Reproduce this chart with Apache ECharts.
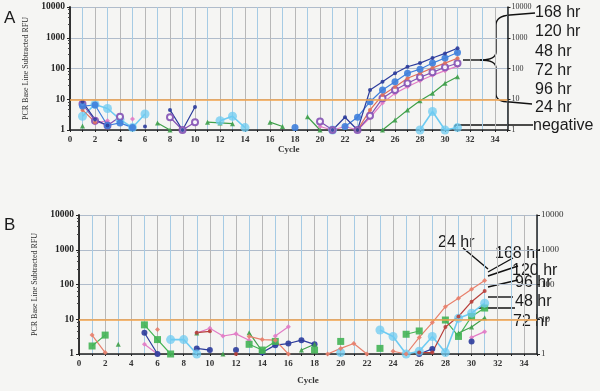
<!DOCTYPE html>
<html><head><meta charset="utf-8">
<script src="https://cdn.jsdelivr.net/npm/echarts@6/dist/echarts.min.js"></script>
<style>html,body{margin:0;padding:0;background:#f5f5f3}#c{width:600px;height:391px}</style>
</head><body><div id="c"></div>
<script>
// ---- data ----
const cycles = [1,2,3,4,5,6,7,8,9,10,11,12,13,14,15,16,17,18,19,20,21,22,23,24,25,26,27,28,29,30,31];
const thresholdA = 10;
const thresholdB = 10;
// Panel A
const a168 = [8.3,2.2,1.4,null,null,1.3,null,4.5,1,5.6,null,null,null,null,null,null,null,null,null,null,1,2.6,1,20,37,70,114,150,220,310,455];
const a120 = [6,6.5,1.4,1.7,1.2,null,null,null,null,null,null,null,null,null,null,null,null,1.2,null,null,null,1.3,2.6,8.3,20,37,70,95,150,220,330];
const a48  = [4.5,1.8,null,null,null,null,null,null,null,null,null,null,null,null,null,null,null,null,null,null,null,null,1,4.5,13.7,25,48,70,105,150,215];
const a72  = [7,2,1.4,2.7,null,null,null,2.6,1,1.8,null,null,null,null,null,null,null,null,null,1.9,1,null,1,2.9,10.7,20,33,52,75,110,148];
const a96  = [null,1.7,2,null,2.3,null,null,null,null,null,null,null,null,null,null,null,null,null,null,1.3,1,1.3,1,2.5,7.5,15.5,25.6,40,60,85,120];
const a24  = [1.35,null,null,null,null,null,1.7,1,null,null,1.8,1.7,1.6,null,null,1.8,1.3,null,2.7,1,null,null,null,null,1,2.1,4.5,8.9,15.6,33,54];
const aNeg = [2.8,6.8,5,2.2,1.2,3.3,null,null,null,null,null,2,2.8,1.2,null,null,null,null,null,null,1,null,null,null,null,null,null,1,4,1,1.2];
// Panel B
const b24  = [3.5,1.1,null,null,null,5.1,null,null,null,null,null,null,3.2,2.6,2.5,1,null,null,1,1.45,2.0,1,null,1.2,1,3,8,23,40,73,130];
const b168 = [null,null,null,null,null,null,null,null,4.1,4.5,null,1,null,null,null,null,null,null,null,null,null,null,null,null,null,1.1,1.1,6,12,32,65];
const b120 = [null,null,null,null,null,null,2.6,2.6,1,null,null,null,null,null,null,null,null,null,null,1.1,null,null,4.9,3.2,1,1.2,3.2,1.1,10.7,15,29];
const b96  = [1.7,3.5,null,null,6.9,2.6,1,null,null,null,null,null,1.9,1.3,2.3,null,null,1.3,null,2.3,null,null,1.45,null,3.7,4.6,null,9.5,3.2,12,21];
const b48  = [null,null,1.9,null,null,null,null,null,4,null,1,null,4.1,1.2,null,null,1.3,1.9,null,null,null,null,null,null,null,null,null,null,4,6,11];
const b72  = [null,null,null,null,4.1,1,null,null,1.45,1.3,null,1.3,null,1.1,1.8,2.0,2.5,1.9,null,null,null,null,null,null,null,1,1.4,null,null,2.3,null];
const bPink= [null,null,null,null,1.9,1,null,null,4,5.5,3.3,3.8,2.5,null,3.3,6.1,null,null,null,null,null,null,null,null,null,null,null,null,null,3,4.4];
const yTicks = [1,10,100,1000,10000];
const labelsA = ['168 hr','120 hr','48 hr','72 hr','96 hr','24 hr','negative'];
const labelsB = ['24 hr','168 hr','120 hr','96 hr','48 hr','72 hr'];

// ---- chart ----
const chart = echarts.init(document.getElementById('c'));
function ser(name, vals, color, symbol, size, xi, yi, extra){
  return Object.assign({
    name, type:'line', xAxisIndex:xi, yAxisIndex:yi,
    data: cycles.map((c,i)=>[c, vals[i]]),
    symbol, symbolSize:size, showSymbol:true, clip:true,
    lineStyle:{color, width:1.2}, itemStyle:{color, opacity:0.9},
    z:3
  }, extra||{});
}
function thr(v){
  return {silent:true, symbol:'none', label:{show:false},
    lineStyle:{color:'#f2a24a', width:1.6, type:'solid'}, data:[{yAxis:v}]};
}
const serif = 'Liberation Serif';
function xAx(gi){
  return {type:'value', gridIndex:gi, min:0, max:35, interval:1,
    name:'Cycle', nameLocation:'middle', nameGap: gi===0?14:22,
    nameTextStyle:{fontFamily:serif, fontWeight:'bold', fontSize:9, color:'#333'},
    axisLine:{lineStyle:{color:'#222', width:1.5}},
    axisTick:{length:2, lineStyle:{color:'#222'}},
    axisLabel:{fontFamily:serif, fontWeight:'bold', fontSize:9, color:'#333', margin:5,
      formatter:v=> (v%2===0 && v<35)? String(v):''},
    splitLine:{show:true, lineStyle:{color:['#b8b8b8','#a6cbe4'], width:1}}};
}
function yAxL(gi){
  return {type:'log', gridIndex:gi, min:1, max:10000, logBase:10, position:'left',
    name:'PCR Base Line Subtracted RFU', nameLocation:'middle', nameGap: gi===0?36:38,
    nameTextStyle:{fontFamily:serif, fontSize:8, color:'#333'},
    axisLine:{show:true, lineStyle:{color:'#222', width:1.8}},
    axisTick:{show:true, length:3, lineStyle:{color:'#222'}},
    minorTick:{show:true, splitNumber:5, length:2, lineStyle:{color:'#444'}},
    axisLabel:{fontFamily:serif, fontWeight:'bold', fontSize:9.5, color:'#222', margin:5,
      formatter:v=> yTicks.includes(Math.round(v))? String(Math.round(v)):''},
    splitLine:{show:true, lineStyle:{color:'#b0bccb', width:1}}};
}
function yAxR(gi, fs){
  return {type:'log', gridIndex:gi, min:1, max:10000, logBase:10, position:'right',
    axisLine:{show:true, lineStyle:{color:'#222', width:1.5}},
    axisTick:{show:true, length:3, lineStyle:{color:'#222'}},
    axisLabel:{fontFamily:serif, fontSize:fs, color:'#333', margin:4,
      formatter:v=> yTicks.includes(Math.round(v))? String(Math.round(v)):''},
    splitLine:{show:false}};
}
const navy='#2c3c9c', blue='#3f7fdc', red='#e0705c', purple='#8452b4', pink='#e27cc6', green='#3fa04a', cyan='#6ecbf2', dred='#b8403c';
const txt = (x,y,s,fs,extra)=>Object.assign({type:'text', x, y, style:{text:s, font:`${fs}px "Liberation Sans"`, fill:'#1a1a1a', textVerticalAlign:'middle'}}, extra||{});
const ln = (x1,y1,x2,y2)=>({type:'line', shape:{x1,y1,x2,y2}, style:{stroke:'#111', lineWidth:1.4}});
const bz = (x1,y1,cx,cy,x2,y2)=>({type:'bezierCurve', shape:{x1,y1,x2,y2,cpx1:cx,cpy1:cy}, style:{stroke:'#111', lineWidth:1.4, fill:null}});
const aY = [13,32,52,71,90,108,126];
const graphics = [
  txt(4,18,'A',17), txt(4,225,'B',17),
  ...labelsA.map((s,i)=>txt(s==='negative'?533:535, aY[i], s, 16)),
  // brace
  ln(463,60,480,60), bz(480,60,496,60,496,52), ln(496,52,496,25), bz(496,25,496,16,510,15), ln(510,15,535,13),
  bz(480,60,496,60,496,68), ln(496,68,496,94), bz(496,94,496,102,510,102), ln(510,102,532,104),
  // negative
  ln(455,130,455,125), ln(455,125,533,125),
  // B labels
  txt(438,243,labelsB[0],16), txt(495,254,labelsB[1],16), txt(512,271,labelsB[2],16),
  txt(515,283,labelsB[3],16), txt(515,302,labelsB[4],16), txt(513,322,labelsB[5],16),
  ln(463,248,488,269), ln(488,272,513,258), ln(488,276,518,266), ln(488,287,518,280),
  ln(488,297,513,297), ln(478,308,515,308)
];
chart.setOption({
  backgroundColor:'#f5f5f3',
  animation:false,
  grid:[{left:70, right:92.5, top:7, bottom:261},{left:79, right:63, top:215, bottom:37}],
  xAxis:[xAx(0), xAx(1)],
  yAxis:[yAxL(0), yAxR(0,8), yAxL(1), yAxR(1,9)],
  series:[
    ser('A 24 hr', a24, green, 'triangle', 5, 0, 0, {markLine:thr(thresholdA)}),
    ser('A negative', aNeg, cyan, 'circle', 9, 0, 0, {itemStyle:{color:cyan, opacity:0.75}, lineStyle:{color:cyan, width:1.6}}),
    ser('A 96 hr', a96, pink, 'diamond', 5, 0, 0),
    ser('A 72 hr', a72, purple, 'emptyCircle', 6, 0, 0),
    ser('A 48 hr', a48, red, 'circle', 4, 0, 0),
    ser('A 120 hr', a120, blue, 'circle', 7, 0, 0),
    ser('A 168 hr', a168, navy, 'circle', 4, 0, 0),
    ser('B pink', bPink, pink, 'diamond', 5, 1, 2, {markLine:thr(thresholdB)}),
    ser('B 72 hr', b72, navy, 'circle', 6, 1, 2),
    ser('B 48 hr', b48, green, 'triangle', 5, 1, 2),
    ser('B 96 hr', b96, '#44b455', 'rect', 7, 1, 2),
    ser('B 120 hr', b120, cyan, 'circle', 9, 1, 2, {itemStyle:{color:cyan, opacity:0.75}, lineStyle:{color:cyan, width:1.6}}),
    ser('B 168 hr', b168, dred, 'circle', 4, 1, 2),
    ser('B 24 hr', b24, '#e8806c', 'diamond', 5, 1, 2)
  ],
  graphic: graphics
});
</script></body></html>
